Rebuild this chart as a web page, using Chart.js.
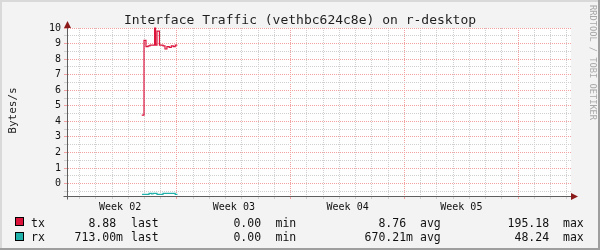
<!DOCTYPE html>
<html>
<head>
<meta charset="utf-8">
<script src="https://cdn.jsdelivr.net/npm/chart.js@4.4.1/dist/chart.umd.min.js"></script>
<style>
  html, body { margin: 0; padding: 0; background: #f3f3f3; overflow: hidden; }
  #wrap { width: 600px; height: 250px; position: relative; }
</style>
</head>
<body>
<div id="wrap"><canvas id="c"></canvas></div>
<script>
// ---- data (x in days from start of Week 02) ----
const titleText = 'Interface Traffic (vethbc624c8e) on r-desktop';
const yAxisTitle = 'Bytes/s';
const watermark = 'RRDTOOL / TOBI OETIKER';

const weekNames = ['Week 02', 'Week 03', 'Week 04', 'Week 05'];
const weekStarts = [0, 7, 14, 21];

const txDays   = [4.83, 4.97, 5.09, 5.22, 5.34, 5.62, 5.68, 5.77, 5.92, 6.14, 6.26, 6.38, 6.52, 6.65, 6.77, 6.89, 7.02];
const txValues = [4.4,  9.2,  8.8,  8.85, 8.9,  10.0, 8.9,  9.8,  8.9,  8.85, 8.65, 8.8,  8.75, 8.85, 8.8,  8.9,  8.9];

const rxDays   = [4.85, 5.28, 5.43, 5.52, 5.77, 6.02, 6.14, 6.89, 7.03];
const rxValues = [-0.70, -0.63, -0.67, -0.63, -0.70, -0.70, -0.63, -0.70, -0.70];

const seriesNames = ['tx', 'rx'];
const seriesColors = ['#DC143C', '#20B2AA'];
const lastVals = ['8.88 ', '713.00m'];
const minVals  = ['0.00 ', '0.00 '];
const avgVals  = ['8.76 ', '670.21m'];
const maxVals  = ['195.18 ', '48.24 '];
const statNames = ['last', 'min', 'avg', 'max'];

const yMin = -0.8, yMax = 10, yStep = 0.5;
const xMin = 0.23, xMax = 31.25;

const MONO = '"DejaVu Sans Mono", "Liberation Mono", monospace';
const GRID_MINOR = '#cfcfcf';
const GRID_MAJOR = '#f2a0a0';
const AXIS = '#5e5e5e';
const ARROW = '#8b1a1a';

function toPts(xs, ys) { return xs.map((x, i) => ({ x: x, y: ys[i] })); }

const decorPlugin = {
  id: 'decor',
  beforeDraw(chart) {
    const ctx = chart.ctx, W = chart.width, H = chart.height, a = chart.chartArea;
    ctx.save();
    ctx.fillStyle = '#f3f3f3';
    ctx.fillRect(0, 0, W, H);
    ctx.fillStyle = '#d9d9d9';
    ctx.fillRect(0, 0, W, 2);
    ctx.fillRect(0, 0, 2, H);
    ctx.fillStyle = '#9e9e9e';
    ctx.fillRect(0, H - 2, W, 2);
    ctx.fillRect(W - 2, 0, 2, H);
    ctx.fillStyle = '#ffffff';
    ctx.fillRect(a.left, a.top, a.right - a.left, a.bottom - a.top);
    ctx.restore();
  },
  afterDraw(chart) {
    const ctx = chart.ctx, a = chart.chartArea;
    ctx.save();
    const ax = Math.round(a.left) + 0.5, ay = Math.round(a.bottom) + 0.5;
    ctx.strokeStyle = AXIS; ctx.lineWidth = 1;
    ctx.beginPath();
    ctx.moveTo(ax, ay + 3); ctx.lineTo(ax, a.top - 3);
    ctx.moveTo(ax - 4, ay); ctx.lineTo(a.right + 1, ay);
    ctx.stroke();
    ctx.fillStyle = ARROW;
    ctx.beginPath();
    ctx.moveTo(ax - 3.5, a.top); ctx.lineTo(ax + 3.5, a.top); ctx.lineTo(ax, a.top - 7); ctx.closePath();
    ctx.fill();
    ctx.beginPath();
    ctx.moveTo(a.right, ay - 3.5); ctx.lineTo(a.right, ay + 3.5); ctx.lineTo(a.right + 7, ay); ctx.closePath();
    ctx.fill();

    ctx.fillStyle = '#1e1e1e';
    ctx.font = '13px ' + MONO;
    ctx.textAlign = 'center'; ctx.textBaseline = 'alphabetic';
    ctx.fillText(titleText, 300, 24);

    ctx.save();
    ctx.translate(15.5, 110.5);
    ctx.rotate(-Math.PI / 2);
    ctx.font = '11px ' + MONO;
    ctx.textAlign = 'center'; ctx.textBaseline = 'alphabetic';
    ctx.fillText(yAxisTitle, 0, 0);
    ctx.restore();

    ctx.save();
    ctx.translate(590, 5);
    ctx.rotate(Math.PI / 2);
    ctx.font = '8.7px ' + MONO;
    ctx.fillStyle = '#a8a8a8';
    ctx.textAlign = 'left'; ctx.textBaseline = 'alphabetic';
    ctx.fillText(watermark, 0, 0);
    ctx.restore();

    const rowsY = [226.5, 240.5];
    const boxY = [217, 232];
    const valCols = [
      { vals: lastVals, right: 123, label: 131 },
      { vals: minVals,  right: 268, label: 275.5 },
      { vals: avgVals,  right: 413, label: 420 },
      { vals: maxVals,  right: 556, label: 563 }
    ];
    ctx.font = '11.5px ' + MONO;
    ctx.textBaseline = 'alphabetic';
    seriesNames.forEach((name, i) => {
      ctx.fillStyle = '#000';
      ctx.fillRect(15, boxY[i], 9, 9);
      ctx.fillStyle = seriesColors[i];
      ctx.fillRect(16, boxY[i] + 1, 7, 7);
      ctx.fillStyle = '#111';
      ctx.textAlign = 'left';
      ctx.fillText(name, 31, rowsY[i]);
      valCols.forEach((c, k) => {
        ctx.textAlign = 'right';
        ctx.fillText(c.vals[i], c.right, rowsY[i]);
        ctx.textAlign = 'left';
        ctx.fillText(statNames[k], c.label, rowsY[i]);
      });
    });
    ctx.restore();
  }
};

const isInt = v => Math.abs(v - Math.round(v)) < 1e-6;
const weekCenters = weekStarts.map(s => s + 3.5);

new Chart(document.getElementById('c'), {
  type: 'line',
  data: {
    datasets: [
      { label: seriesNames[0], data: toPts(txDays, txValues), borderColor: seriesColors[0], borderWidth: 1.2,
        pointRadius: 0, stepped: 'before', fill: false, clip: false },
      { label: seriesNames[1], data: toPts(rxDays, rxValues), borderColor: seriesColors[1], borderWidth: 1.2,
        pointRadius: 0, stepped: 'before', fill: false, clip: false }
    ]
  },
  options: {
    responsive: true,
    maintainAspectRatio: false,
    animation: false,
    devicePixelRatio: 1,
    layout: { padding: { top: 28, right: 29, left: 0, bottom: 0 } },
    plugins: { legend: { display: false }, title: { display: false }, tooltip: { enabled: false } },
    scales: {
      x: {
        type: 'linear', min: xMin, max: xMax,
        afterBuildTicks(axis) {
          const t = [];
          for (let d = Math.ceil(xMin); d <= Math.floor(xMax); d++) t.push({ value: d });
          weekCenters.forEach(c => t.push({ value: c }));
          t.sort((p, q) => p.value - q.value);
          axis.ticks = t;
        },
        afterFit(scale) { scale.height = 54; },
        ticks: {
          autoSkip: false, maxRotation: 0, minRotation: 0, padding: 2,
          color: '#111', font: { family: MONO, size: 10 },
          callback(v) { const i = weekCenters.indexOf(v); return i >= 0 ? weekNames[i] : ''; }
        },
        grid: {
          drawOnChartArea: true, drawTicks: true, tickLength: 3,
          color(ctx) { const v = ctx.tick && ctx.tick.value; return (isInt(v) && Math.round(v) % 7 === 0) ? GRID_MAJOR : GRID_MINOR; },
          tickColor(ctx) { const v = ctx.tick && ctx.tick.value; return (isInt(v) && Math.round(v) % 7 === 0) ? GRID_MAJOR : GRID_MINOR; },
          lineWidth(ctx) { const v = ctx.tick && ctx.tick.value; return isInt(v) ? 1 : 0; },
          tickWidth(ctx) { const v = ctx.tick && ctx.tick.value; return isInt(v) ? 1 : 0; }
        },
        border: { display: true, color: AXIS, width: 1, dash: [1, 1] }
      },
      y: {
        type: 'linear', min: yMin, max: yMax,
        afterBuildTicks(axis) {
          const t = [];
          for (let v = Math.ceil(yMin / yStep) * yStep; v <= yMax + 1e-9; v += yStep) t.push({ value: Math.round(v * 10) / 10 });
          axis.ticks = t;
        },
        afterFit(scale) { scale.width = 67; },
        ticks: {
          autoSkip: false, padding: 3,
          color: '#111', font: { family: MONO, size: 10 },
          callback(v) { return isInt(v) ? String(Math.round(v)) : ''; }
        },
        grid: {
          drawOnChartArea: true, drawTicks: true, tickLength: 3,
          color(ctx) { return isInt(ctx.tick.value) ? GRID_MAJOR : GRID_MINOR; },
          tickColor(ctx) { return isInt(ctx.tick.value) ? GRID_MAJOR : GRID_MINOR; }
        },
        border: { display: true, color: AXIS, width: 1, dash: [1, 1] }
      }
    }
  },
  plugins: [decorPlugin]
});
</script>
</body>
</html>
